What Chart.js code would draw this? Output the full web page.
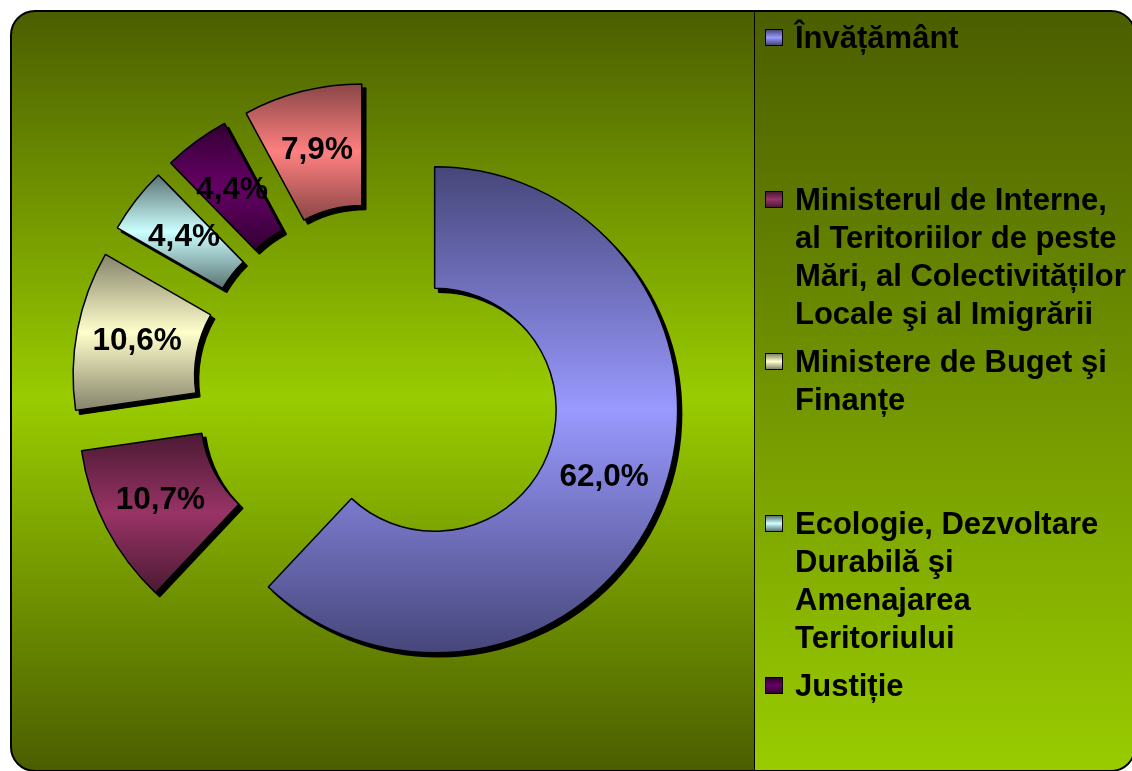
<!DOCTYPE html>
<html>
<head>
<meta charset="utf-8">
<script src="https://cdn.jsdelivr.net/npm/chart.js@4.4.1/dist/chart.umd.min.js"></script>
<style>
  html, body { margin: 0; padding: 0; width: 1132px; height: 771px; overflow: hidden; background: #fff; }
  #frame {
    position: absolute; left: 10px; top: 10px; width: 1126px; height: 762px;
    box-sizing: border-box; border: 2px solid #000; border-radius: 25px; overflow: hidden;
    background: linear-gradient(to bottom, #4b5e00 0%, #99cc00 51%, #4b5e00 100%);
  }
  #legendBox {
    position: absolute; left: 742px; top: 0; right: 0; bottom: 0;
    border-left: 1.5px solid #000;
    background: linear-gradient(to bottom, #4b5e00, #99cc00);
  }
  #chartWrap { position: absolute; left: -12px; top: -12px; width: 1132px; height: 771px; }
  #legend { position: absolute; left: 753px; top: 6.6px; }
  .item { position: relative; height: 162px; padding-left: 30px;
    font: bold 31px "Liberation Sans", Arial, sans-serif; line-height: 38.3px; color: #000; white-space: nowrap; }
  .swatch { position: absolute; left: 0; top: 10px; width: 16px; height: 15px; border: 1.5px solid #000; }
</style>
</head>
<body>
<div id="frame">
  <div id="legendBox"></div>
  <div id="chartWrap"><canvas id="chart"></canvas></div>
  <div id="legend"></div>
</div>
<script>
// slices, clockwise from 12 o'clock
const categories = [
  'Învățământ',
  'Ministerul de Interne, al Teritoriilor de peste Mări, al Colectivităților Locale şi al Imigrării',
  'Ministere de Buget şi Finanțe',
  'Ecologie, Dezvoltare Durabilă şi Amenajarea Teritoriului',
  'Justiție',
  'Altele'
];
// legend text as it wraps in the picture
const legendLines = [
  ['Învățământ'],
  ['Ministerul de Interne,', 'al Teritoriilor de peste', 'Mări, al Colectivităților', 'Locale şi al Imigrării'],
  ['Ministere de Buget şi', 'Finanțe'],
  ['Ecologie, Dezvoltare', 'Durabilă şi', 'Amenajarea', 'Teritoriului'],
  ['Justiție'],
  ['Altele']
];
const values = [62.0, 10.7, 10.6, 4.4, 4.4, 7.9];
const midColors = ['#9999ff', '#993366', '#ffffcc', '#ccffff', '#660066', '#ff8080'];
const edgeColors = ['#46467a', '#4a1a33', '#85836a', '#5a7373', '#330033', '#8a4646'];

const EXPLODE = 62;      // distance each slice is pulled out
const SHADOW = 4;        // drop shadow offset

function formatPercent(v) {
  return v.toFixed(1).replace('.', ',') + '%';
}

/**
 * Vertical extent of an arc, used for its gradient
 */
function arcBounds(arc) {
  let minY = Infinity, maxY = -Infinity;
  const steps = 48;
  for (let k = 0; k <= steps; k++) {
    const a = arc.startAngle + (arc.endAngle - arc.startAngle) * k / steps;
    [arc.innerRadius, arc.outerRadius].forEach(r => {
      const y = arc.y + Math.sin(a) * r;
      minY = Math.min(minY, y);
      maxY = Math.max(maxY, y);
    });
  }
  return [minY, maxY];
}

function explodeOffset(arc) {
  const mid = (arc.startAngle + arc.endAngle) / 2;
  return [Math.cos(mid) * EXPLODE, Math.sin(mid) * EXPLODE];
}

// draws every slice pulled out, with a hard shadow and a shaded fill
const explodePlugin = {
  id: 'explode',
  beforeDatasetDraw(chart, args) {
    const ctx = chart.ctx;
    args.meta.data.forEach((arc, i) => {
      const [dx, dy] = explodeOffset(arc);
      const opts = arc.options;

      ctx.save();
      ctx.translate(dx + SHADOW, dy + SHADOW);
      opts.backgroundColor = '#000';
      opts.borderColor = '#000';
      arc.draw(ctx);
      ctx.restore();

      const [y0, y1] = arcBounds(arc);
      const grad = ctx.createLinearGradient(0, y0, 0, y1);
      grad.addColorStop(0, edgeColors[i]);
      grad.addColorStop(0.5, midColors[i]);
      grad.addColorStop(1, edgeColors[i]);

      ctx.save();
      ctx.translate(dx, dy);
      opts.backgroundColor = grad;
      opts.borderColor = '#000';
      arc.draw(ctx);
      ctx.restore();
    });
    return false;
  }
};

const labelPlugin = {
  id: 'sliceLabels',
  afterDatasetsDraw(chart) {
    const ctx = chart.ctx;
    const meta = chart.getDatasetMeta(0);
    ctx.save();
    ctx.font = 'bold 31.5px "Liberation Sans", Arial, sans-serif';
    ctx.fillStyle = '#000';
    ctx.textAlign = 'center';
    ctx.textBaseline = 'middle';
    meta.data.forEach((arc, i) => {
      const [dx, dy] = explodeOffset(arc);
      const p = arc.tooltipPosition();
      ctx.fillText(formatPercent(values[i]), p.x + dx, p.y + dy);
    });
    ctx.restore();
  }
};

new Chart(document.getElementById('chart'), {
  type: 'doughnut',
  data: {
    labels: categories,
    datasets: [{
      data: values,
      backgroundColor: midColors,
      borderColor: '#000',
      borderWidth: 1.5,
      offset: 0,
      hoverOffset: 0,
    }],
  },
  options: {
    responsive: true,
    maintainAspectRatio: false,
    animation: false,
    events: [],
    radius: 243,
    cutout: '50%',
    layout: { padding: { left: 40, right: 418, top: 40, bottom: 37 } },
    plugins: {
      legend: { display: false },
      tooltip: { enabled: false },
    },
  },
  plugins: [explodePlugin, labelPlugin],
});

// legend built from the same arrays
const legend = document.getElementById('legend');
legendLines.forEach((lines, i) => {
  const item = document.createElement('div');
  item.className = 'item';
  const sw = document.createElement('span');
  sw.className = 'swatch';
  sw.style.background = `linear-gradient(to bottom, ${edgeColors[i]}, ${midColors[i]} 50%, ${edgeColors[i]})`;
  item.appendChild(sw);
  lines.forEach((t, k) => {
    if (k > 0) item.appendChild(document.createElement('br'));
    item.appendChild(document.createTextNode(t));
  });
  legend.appendChild(item);
});
</script>
</body>
</html>
